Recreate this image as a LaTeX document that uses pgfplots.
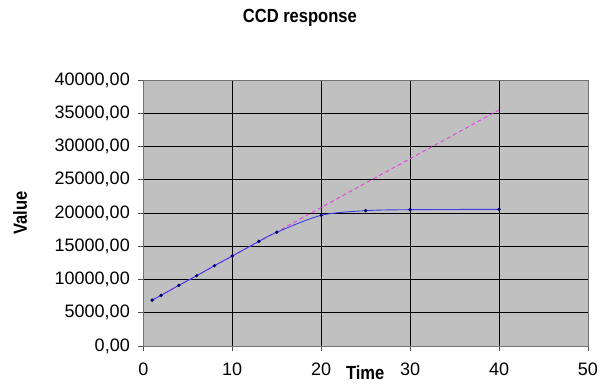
\documentclass[border=0pt]{standalone}
\usepackage{pgfplots}
\pgfplotsset{compat=1.18}
\usepackage{fontspec}
\setmainfont{Liberation Sans}
\newfontfamily\labelfont[FakeStretch=0.87]{Liberation Sans}
\definecolor{plotbg}{RGB}{192,192,192}
\definecolor{curve}{RGB}{60,60,230}
\definecolor{mk}{RGB}{0,0,110}
\definecolor{fit}{RGB}{230,60,230}
\begin{document}
\begin{tikzpicture}
\useasboundingbox (-143.3bp,-44bp) rectangle (456.7bp,346bp);
\begin{axis}[
  scale only axis,
  width=444.7bp, height=266bp,
  xmin=0, xmax=50, ymin=0, ymax=40000,
  xtick={0,10,...,50},
  ytick={0,5000,...,40000},
  scaled y ticks=false,
  tick pos=left,
  tick align=outside,
  major tick length=5bp,
  tick style={draw=black!70, line width=0.8bp},
  axis background/.style={fill=plotbg},
  axis line style={draw=black!55, line width=0.8bp},
  grid=major,
  major grid style={draw=black, line width=0.7bp},
  /pgf/number format/assume math mode=true,
  ticklabel style={font=\fontsize{18bp}{21bp}\selectfont},
  yticklabel style={xshift=-5bp, /pgf/number format/.cd, fixed, fixed zerofill, precision=2, use comma, 1000 sep={}},
  xticklabel style={yshift=-8bp},
  title={CCD response},
  title style={font=\labelfont\fontsize{19bp}{22bp}\selectfont\bfseries, at={(axis description cs:0.352,1.233)}, anchor=center, yshift=-6bp},
  xlabel={Time},
  xlabel style={font=\labelfont\fontsize{19bp}{22bp}\selectfont\bfseries, at={(axis description cs:0.499,0)}, anchor=center, yshift=-27bp},
  ylabel={Value},
  ylabel style={font=\labelfont\fontsize{19bp}{22bp}\selectfont\bfseries, at={(axis description cs:-0.2773,0.5)}, anchor=center},
]
\addplot[fit, line width=0.9bp, dash pattern=on 4bp off 3bp] coordinates {
  (1,6900) (40,35500)
};
\addplot[curve, line width=0.9bp, smooth, tension=0.5, mark=*, mark size=1.2bp, mark options={mk, solid}] coordinates {
  (1,6900) (2,7620) (4,9120) (6,10570) (8,12080) (10,13530)
  (13,15740) (15,17100) (20,19650) (25,20350) (30,20500) (40,20550)
};
\end{axis}
\end{tikzpicture}
\end{document}
